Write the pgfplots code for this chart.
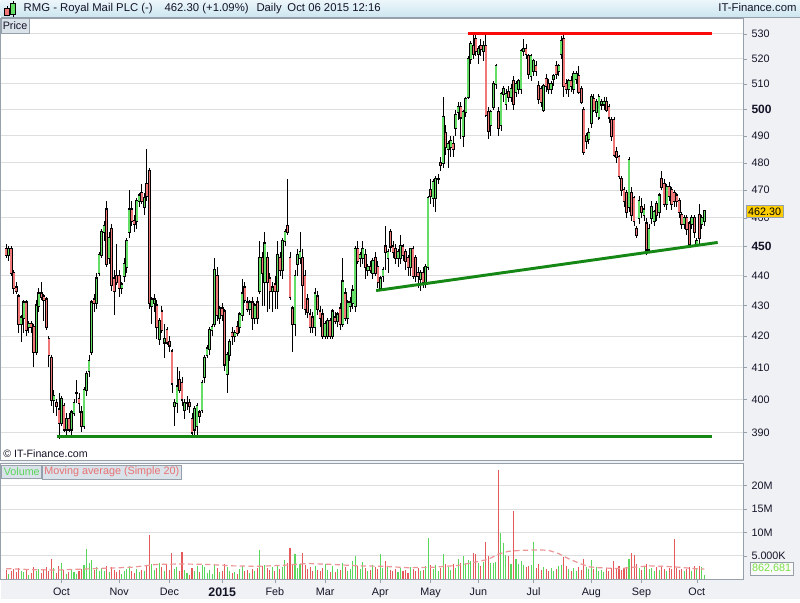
\documentclass[border=0pt]{standalone}
\usepackage{pgfplots}
\usepackage{pgfplotstable}
\usepackage{fontspec}
\pgfplotsset{compat=1.18}
\setmainfont{Liberation Sans}
\setsansfont{Liberation Sans}

\definecolor{bgc}{RGB}{240,241,244}
\definecolor{hdtop}{RGB}{236,246,251}
\definecolor{hdbot}{RGB}{205,230,240}
\definecolor{bordc}{RGB}{150,160,170}
\definecolor{gridc}{RGB}{222,222,222}
\definecolor{txtc}{RGB}{20,20,40}
\definecolor{cgreen}{RGB}{100,222,100}
\definecolor{cred}{RGB}{240,120,120}
\definecolor{vgreen}{RGB}{90,215,90}
\definecolor{vred}{RGB}{228,90,90}
\definecolor{mac}{RGB}{236,150,150}
\definecolor{lgreen}{RGB}{20,135,20}
\definecolor{lred}{RGB}{250,10,10}
\definecolor{badge}{RGB}{255,206,0}
\definecolor{lblbg}{RGB}{218,226,234}

% daily candles, index = trading day from Sep 1 2014; v in millions
\pgfplotstableread{
i o h l c v
0 449 451 446 447 2.0
1 447 450 445 449 1.2
2 449 450 440 441 1.9
3 441 442 434 436 2.3
4 436 438 434 435 1.6
5 433 434 421 424 2.4
6 424 427 418 426 1.8
7 426 432 421 431 1.5
8 431 432 420 422 2.1
9 423 425 421 424 1.0
10 424 425 421 423 1.3
11 423 424 410 415 2.6
12 415 432 414 430 1.7
13 430 436 428 434 2.2
14 434 438 432 433 1.4
15 433 434 425 432 2.0
16 432 433 422 423 2.7
17 419 420 410 414 1.9
18 413 414 398 400 4.3
19 400 403 396 401 2.4
20 399 400 395 398 1.3
21 397 402 388 393 2.8
22 393 401 392 400 3.6
23 398 399 390 391 2.0
24 391 396 389 394 1.1
25 394 396 390 391 1.5
26 391 397 389 396 2.2
27 396 400 395 399 1.6
28 402 406 399 402 1.2
29 400 402 396 399 1.9
30 396 398 390 392 2.3
31 392 404 391 403 3.0
32 403 409 401 408 6.4
33 409 414 407 412 3.4
34 415 432 414 431 4.1
35 432 434 428 431 2.0
36 431 441 429 439 2.6
37 441 448 440 447 1.9
38 447 456 446 455 2.5
39 455 459 452 457 1.8
40 463 466 443 444 2.9
41 446 455 444 453 1.6
42 456 458 435 437 2.7
43 439 442 427 435 2.1
44 440 451 437 438 1.5
45 440 442 433 436 2.0
46 436 438 434 437 1.2
47 440 446 438 444 1.8
48 443 453 441 452 2.3
49 455 470 453 463 2.9
50 463 466 457 459 1.9
51 459 461 455 458 1.4
52 459 467 456 466 2.2
53 466 469 464 468 1.6
54 469 472 465 466 2.1
55 464 469 461 467 1.7
56 472 485 466 468 3.0
57 477 478 429 431 9.4
58 430 433 424 432 3.2
59 431 434 428 432 2.1
60 430 432 419 423 2.4
61 419 426 417 425 3.5
62 428 430 421 422 2.6
63 418 424 413 419 1.9
64 422 423 417 418 3.1
65 418 420 415 417 2.0
66 415 416 402 405 5.6
67 398 400 392 399 2.3
68 399 410 396 404 2.6
69 406 409 402 403 1.8
70 405 407 398 400 5.9
71 397 400 394 399 2.1
72 399 401 397 399 1.3
73 399 400 396 398 1.0
74 394 396 389 390 2.4
75 391 398 389 397 1.7
76 392 399 389 398 2.8
77 396 397 393 395 1.5
78 397 406 396 405 3.0
79 407 414 405 413 2.6
80 414 417 413 416 1.4
81 416 423 414 422 2.0
82 422 424 420 423 1.2
83 424 446 423 442 3.2
84 440 443 425 427 2.4
85 426 430 424 429 1.6
86 429 431 425 427 1.9
87 428 429 409 411 3.3
88 408 415 402 414 2.7
89 414 419 412 418 1.8
90 421 423 417 420 1.3
91 420 422 418 421 1.5
92 423 425 420 421 1.1
93 423 428 421 427 2.2
94 427 439 425 434 2.9
95 436 438 431 432 1.7
96 431 433 428 429 2.0
97 429 432 427 431 1.4
98 431 433 422 426 2.3
99 426 431 424 430 1.9
100 431 433 424 426 2.5
101 435 452 434 446 6.2
102 446 448 430 441 2.8
103 438 455 430 451 3.1
104 446 448 428 438 2.4
105 439 441 429 435 2.0
106 435 438 428 436 2.6
107 437 440 429 435 1.8
108 435 452 429 447 3.0
109 446 448 440 442 2.2
110 442 453 439 452 2.7
111 452 456 450 455 4.1
112 457 474 454 455 3.4
113 446 448 432 433 6.7
114 429 430 415 424 3.0
115 424 442 420 440 5.5
116 444 449 440 447 2.4
117 446 455 444 448 3.2
118 446 449 429 437 5.6
119 440 442 427 429 3.1
120 432 434 426 428 2.2
121 427 429 421 423 2.6
122 426 428 421 423 1.9
123 423 436 420 434 2.8
124 433 435 427 429 2.0
125 428 430 423 426 1.7
126 427 429 419 420 2.4
127 420 425 419 424 3.3
128 420 426 419 425 2.1
129 425 426 419 420 1.6
130 420 429 419 428 2.9
131 426 428 424 425 1.5
132 425 428 423 427 2.3
133 429 431 422 424 2.0
134 424 446 423 438 3.6
135 434 436 425 426 2.7
136 426 432 424 431 1.8
137 430 433 428 431 2.2
138 431 437 429 435 3.9
139 430 450 428 449 5.1
140 449 452 444 445 2.9
141 446 448 443 447 2.3
142 446 452 444 449 3.7
143 447 449 439 443 2.5
144 442 444 440 443 1.8
145 443 445 441 442 2.1
146 441 446 439 445 3.0
147 446 448 440 441 2.6
148 443 445 436 438 2.2
149 436 440 435 439 5.4
150 440 443 438 442 2.4
151 450 457 442 448 3.9
152 446 449 441 448 2.7
153 455 456 448 450 2.1
154 450 452 446 448 1.8
155 449 451 444 446 2.3
156 446 449 443 448 1.6
157 446 454 444 450 2.5
158 450 451 445 447 1.9
159 448 449 442 445 2.0
160 446 447 440 443 1.4
161 443 449 440 449 2.6
162 449 450 439 440 2.2
163 446 447 438 440 1.7
164 441 443 436 440 2.4
165 439 442 435 441 1.8
166 441 443 436 438 2.0
167 438 444 436 443 2.9
168 443 468 442 467 8.9
169 470 474 465 468 3.0
170 467 474 464 473 2.2
171 467 475 462 474 3.1
172 474 476 472 474 1.9
173 480 482 477 479 2.5
174 480 505 478 497 5.4
175 491 494 483 486 3.3
176 485 488 478 487 2.6
177 486 490 482 488 2.0
178 487 490 482 485 3.2
179 493 500 490 498 2.4
180 499 503 496 501 4.4
181 501 503 489 497 3.4
182 490 500 486 499 5.0
183 499 505 497 504 3.5
184 505 521 504 520 4.1
185 520 527 518 526 3.9
186 525 531 520 522 5.6
187 528 530 521 523 5.4
188 522 525 518 524 3.6
189 525 528 521 524 2.9
190 523 527 519 525 3.8
191 525 530 497 498 7.9
192 499 501 489 492 4.9
193 494 500 490 499 3.6
194 501 511 500 510 3.4
195 510 518 508 517 3.8
196 499 501 490 493 23.4
197 494 507 492 506 9.8
198 506 509 503 508 7.8
199 502 508 500 506 5.3
200 507 509 503 505 4.9
201 505 510 503 508 3.2
202 511 513 500 502 14.6
203 507 511 505 510 4.4
204 508 512 506 511 3.3
205 508 524 506 523 4.0
206 523 528 521 524 3.1
207 524 526 520 522 2.6
208 521 522 512 514 2.8
209 513 522 511 521 3.0
210 515 520 513 519 7.9
211 517 519 513 515 2.4
212 509 511 502 504 3.2
213 508 509 501 503 2.1
214 500 510 499 509 2.7
215 512 514 507 509 2.2
216 510 512 506 508 1.9
217 508 511 506 510 2.5
218 512 514 509 513 1.8
219 517 519 512 514 2.3
220 515 518 513 517 2.9
221 522 529 520 527 3.1
222 528 530 505 509 4.8
223 510 512 506 508 2.9
224 508 512 505 511 2.2
225 511 513 507 509 1.9
226 508 515 506 514 2.4
227 512 515 510 514 1.7
228 513 517 506 507 2.6
229 508 509 502 503 2.0
230 500 501 483 484 4.3
231 488 491 485 490 2.6
232 489 493 487 491 2.3
233 495 506 493 505 4.1
234 504 506 499 500 2.2
235 499 504 497 503 2.7
236 497 506 496 505 1.9
237 502 504 500 503 2.1
238 502 505 500 503 1.6
239 503 505 499 500 2.4
240 501 502 495 497 1.8
241 496 497 488 490 2.5
242 496 497 482 483 3.9
243 484 486 480 482 2.2
244 482 483 474 475 2.8
245 474 475 468 470 2.0
246 470 471 464 466 2.4
247 469 470 460 462 2.7
248 464 482 462 481 4.3
249 469 471 459 461 5.7
250 467 468 457 459 5.3
251 456 457 453 454 3.2
252 460 468 458 466 2.5
253 464 467 460 462 2.0
254 461 465 459 463 2.7
255 458 460 447 449 3.3
256 449 458 448 456 2.2
257 460 466 458 464 2.4
258 459 463 457 462 1.8
259 465 466 459 461 2.6
260 462 469 460 468 2.1
261 474 477 470 471 2.9
262 472 474 464 465 2.3
263 465 472 463 471 1.9
264 471 473 466 468 2.4
265 470 471 463 465 2.2
266 469 470 464 466 8.6
267 468 469 464 466 2.5
268 466 467 460 462 2.0
269 461 462 456 458 2.3
270 458 461 456 460 1.7
271 460 461 454 456 2.2
272 458 459 450 451 2.6
273 458 461 456 460 1.8
274 460 461 453 455 2.9
275 451 453 450 452 2.4
276 461 465 451 453 2.8
277 458 461 456 460 2.6
278 459 463 457 462.3 0.86
}\rmg

\pgfplotsset{
  candle/.style={only marks, mark=*, mark size=0pt,
    mark options={draw=none, fill=none},
    error bars/.cd, y dir=both, y explicit, error mark=none},
  upday/.style={restrict expr to domain={\thisrow{c}-\thisrow{o}}{0:1000}},
  downday/.style={restrict expr to domain={\thisrow{c}-\thisrow{o}}{-1000:-0.001}},
}
\newcommand{\tickfont}{\fontsize{8.1}{9}\selectfont}

\begin{document}
\begin{tikzpicture}[x=0.75pt,y=0.75pt]
\fill[bgc] (0,0) rectangle (800,600);
\shade[top color=hdtop, bottom color=hdbot] (0,583) rectangle (800,600);
\draw[bordc] (0,583) -- (800,583);
% little candle icon
\draw[black, line width=0.5pt] (6.5,583.5) -- (6.5,594);
\draw[black, line width=0.5pt, fill=cred] (4,585) rectangle (9,592);
\draw[black, line width=0.5pt] (12.5,583) -- (12.5,599);
\draw[black, line width=0.5pt, fill=cgreen] (10,586) rectangle (15,597);
\begin{scope}[font=\fontsize{8.5}{10}\selectfont, text=txtc, inner sep=0pt]
\node[anchor=base west] at (23,588) {RMG - Royal Mail PLC (-)};
\node[anchor=base west] at (164,588) {462.30 (+1.09\%)};
\node[anchor=base west] at (256,588) {Daily};
\node[anchor=base west] at (287,588) {Oct 06 2015 12:16};
\node[anchor=base east] at (797,588) {IT-Finance.com};
\end{scope}

\begin{axis}[
  at={(0pt,104.25pt)}, anchor=south west,
  scale only axis, width=557.25pt, height=332.25pt,
  ymode=log, xmin=-2.26, xmax=293.3, ymin=381.7, ymax=536.6,
  axis background/.style={fill=white},
  axis line style={bordc},
  xtick=\empty,
  ytick={390,400,410,420,430,440,450,460,470,480,490,500,510,520,530},
  yticklabels={390,400,410,420,430,440,{\fontsize{9}{10}\selectfont\bfseries 450},460,470,480,490,{\fontsize{9}{10}\selectfont\bfseries 500},510,520,530},
  ytick pos=right, yticklabel pos=right,
  tick align=outside, major tick length=3pt,
  tick style={bordc},
  yticklabel style={font=\tickfont, text=txtc, anchor=west},
  ymajorgrids, grid style={gridc, line width=0.75pt},
  clip=false,
]
% wicks
\addplot[candle, error bar style={black, line width=0.6pt}]
  table[x=i, y=c, y error plus expr=\thisrow{h}-\thisrow{c},
        y error minus expr=\thisrow{c}-\thisrow{l}] {\rmg};
% body outlines
\addplot[candle, error bar style={black, line width=2.05pt}]
  table[x=i, y expr=(\thisrow{o}+\thisrow{c})/2,
        y error expr=abs(\thisrow{c}-\thisrow{o})/2+0.4] {\rmg};
% bodies
\addplot[upday, candle, error bar style={cgreen, line width=1.2pt}]
  table[x=i, y expr=(\thisrow{o}+\thisrow{c})/2,
        y error expr=abs(\thisrow{c}-\thisrow{o})/2] {\rmg};
\addplot[downday, candle, error bar style={cred, line width=1.2pt}]
  table[x=i, y expr=(\thisrow{o}+\thisrow{c})/2,
        y error expr=abs(\thisrow{c}-\thisrow{o})/2] {\rmg};
% trend lines
\addplot[lgreen, line width=2.2pt] coordinates {(20.4,388.7) (280.9,388.7)};
\addplot[lred, line width=2.2pt] coordinates {(183.9,530.2) (280.9,530.2)};
\addplot[lgreen, line width=2.2pt] coordinates {(147.3,435.0) (283.3,451.4)};
\node[fill=badge, draw=bordc, font=\tickfont, text=black, inner sep=1.5pt]
  at (axis cs:302,462.3) {462.30};
\node[anchor=south west, font=\fontsize{8}{9}\selectfont, text=txtc, inner sep=2pt]
  at (rel axis cs:0,0) {© IT-Finance.com};
\end{axis}

\begin{axis}[
  at={(0pt,15pt)}, anchor=south west,
  scale only axis, width=557.25pt, height=87pt,
  xmin=-2.26, xmax=293.3, ymin=0, ymax=24.7,
  axis background/.style={fill=white},
  axis line style={bordc},
  ytick={5,10,15,20}, yticklabels={5.000K,10M,15M,20M},
  xtick={22,45,65,86,107,127,149,169,188,210,233,253,275},
  xticklabels={Oct,Nov,Dec,{\fontsize{9.3}{10}\selectfont\bfseries 2015},Feb,Mar,Apr,May,Jun,Jul,Aug,Sep,Oct},
  ytick pos=right, yticklabel pos=right, xtick pos=left,
  tick align=outside, major tick length=3pt,
  tick style={bordc},
  ticklabel style={font=\tickfont, text=txtc},
  yticklabel style={anchor=west},
  ymajorgrids, grid style={gridc, line width=0.75pt},
  clip=false,
]
\addplot[upday, ycomb, vgreen, line width=0.8pt, mark=none] table[x=i, y=v] {\rmg};
\addplot[downday, ycomb, vred, line width=0.8pt, mark=none] table[x=i, y=v] {\rmg};
% 20-day moving average
\addplot[mac, line width=0.9pt, dash pattern=on 4pt off 2.5pt] coordinates {
  (0,2.3) (10,2.1) (20,2.0) (30,2.2) (40,2.4) (50,2.6) (60,3.2) (70,3.3)
  (80,3.2) (90,2.9) (100,2.8) (110,3.0) (120,3.4) (130,3.2) (140,2.9)
  (150,2.8) (160,2.5) (170,2.6) (180,3.0) (186,3.6) (192,4.3) (196,5.4)
  (200,6.0) (205,6.2) (212,6.3) (216,6.2) (220,5.5) (224,4.4) (228,3.5)
  (232,2.7) (236,2.5) (244,2.3) (250,2.6) (256,2.9) (262,2.8) (268,2.6)
  (274,2.3) (278,2.2)};
\node[fill=white!96!gray, draw=bordc, font=\tickfont, text=vgreen!80!yellow, inner sep=1.5pt]
  at (axis cs:304.8,2.36) {862,681};
\end{axis}

% panel labels
\node[draw=bordc, fill=lblbg, anchor=north west, font=\fontsize{8.1}{9}\selectfont,
  text=txtc, inner sep=1.5pt, minimum height=11pt] at (0,582) {Price};
\node[draw=bordc, fill=lblbg, anchor=north west, font=\fontsize{8.1}{9}\selectfont,
  text=vgreen, inner sep=1.5pt, minimum height=10pt] (vl) at (1,135) {Volume};
\node[draw=bordc, fill=lblbg, anchor=north west, font=\fontsize{8.1}{9}\selectfont,
  text=vred!85!white, inner sep=1.5pt, minimum height=10pt] at (vl.north east) {Moving average (Simple 20)};
\end{tikzpicture}
\end{document}
